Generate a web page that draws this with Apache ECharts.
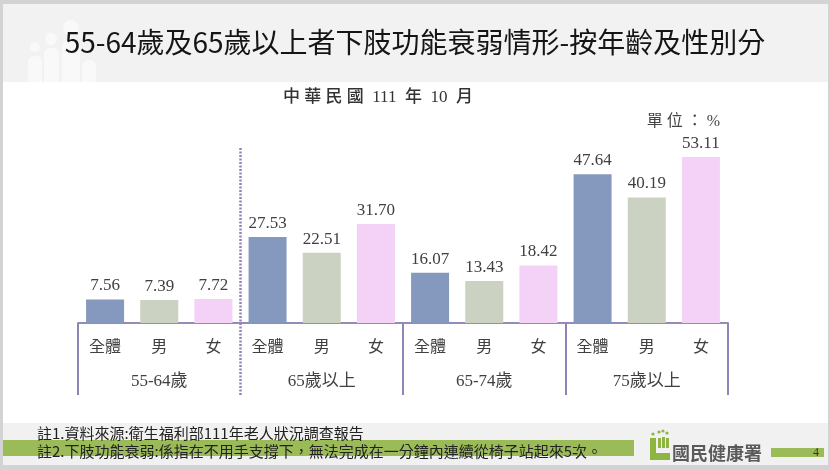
<!DOCTYPE html>
<html>
<head>
<meta charset="utf-8">
<script src="https://cdn.jsdelivr.net/npm/echarts@6/dist/echarts.min.js"></script>
<style>
  html, body { margin: 0; padding: 0; background: #fff; }
  #chart { width: 830px; height: 470px; }
</style>
</head>
<body>
<div id="chart"></div>
<script>
// age groups and sex breakdown, unit: %
const groups = ['55-64歲', '65歲以上', '65-74歲', '75歲以上']
const sexes = ['全體', '男', '女']
const totalVals = [7.56, 27.53, 16.07, 47.64]
const maleVals = [7.39, 22.51, 13.43, 40.19]
const femaleVals = [7.72, 31.70, 18.42, 53.11]

const sexColors = ['#8499bd', '#cbd2c1', '#f4d1f7']
const lineColor = '#8f84b5'
const serif = "'Liberation Serif', 'Noto Sans CJK TC', serif"
const sans = "'Noto Sans CJK TC', sans-serif"

// flatten into 12 bars: group x sex
const cats = []
const vals = []
groups.forEach((g, i) => {
  const row = [totalVals[i], maleVals[i], femaleVals[i]]
  sexes.forEach((s, j) => {
    cats.push(s)
    vals.push({ value: row[j], itemStyle: { color: sexColors[j] } })
  })
})

const chart = echarts.init(document.getElementById('chart'), null, { renderer: 'canvas' })

// slide decoration
const deco = [
  { type: 'rect', z: -20, shape: { x: 0, y: 0, width: 830, height: 470 }, style: { fill: '#d3d3d3' } },
  { type: 'rect', z: -19, shape: { x: 3, y: 4, width: 825, height: 461 }, style: { fill: '#ffffff' } },
  { type: 'rect', z: -18, shape: { x: 3, y: 4, width: 825, height: 78 }, style: { fill: '#f2f2f2' } },
  { type: 'rect', z: -18, shape: { x: 3, y: 423, width: 825, height: 42 }, style: { fill: '#f1f1f1' } },
  // people icon in header
  { type: 'circle', z: -17, shape: { cx: 35, cy: 47, r: 5 }, style: { fill: '#f9f9f9' } },
  { type: 'circle', z: -17, shape: { cx: 51, cy: 39, r: 6 }, style: { fill: '#f9f9f9' } },
  { type: 'circle', z: -17, shape: { cx: 71, cy: 28, r: 8 }, style: { fill: '#f9f9f9' } },
  { type: 'rect', z: -17, shape: { x: 28, y: 56, width: 14, height: 26, r: [6, 6, 0, 0] }, style: { fill: '#f9f9f9' } },
  { type: 'rect', z: -17, shape: { x: 44, y: 48, width: 15, height: 34, r: [6, 6, 0, 0] }, style: { fill: '#f9f9f9' } },
  { type: 'rect', z: -17, shape: { x: 62, y: 40, width: 18, height: 42, r: [7, 7, 0, 0] }, style: { fill: '#f9f9f9' } },
  { type: 'rect', z: -17, shape: { x: 82, y: 60, width: 14, height: 22, r: [6, 6, 0, 0] }, style: { fill: '#f9f9f9' } },
  // footer bars
  { type: 'rect', z: -16, shape: { x: 3, y: 440, width: 631, height: 16 }, style: { fill: '#9bbb59' } },
  { type: 'rect', z: -16, shape: { x: 771, y: 448, width: 53, height: 9 }, style: { fill: '#9bbb59' } },
  // logo mark
  { type: 'rect', shape: { x: 650, y: 438, width: 6, height: 22 }, style: { fill: '#8db53f' } },
  { type: 'rect', shape: { x: 650, y: 453, width: 20, height: 7 }, style: { fill: '#8db53f' } },
  { type: 'rect', shape: { x: 658, y: 438, width: 3, height: 10 }, style: { fill: '#8db53f' } },
  { type: 'rect', shape: { x: 662, y: 437, width: 3, height: 11 }, style: { fill: '#8db53f' } },
  { type: 'rect', shape: { x: 666, y: 438, width: 3, height: 10 }, style: { fill: '#8db53f' } },
  { type: 'circle', shape: { cx: 653, cy: 434, r: 1.6 }, style: { fill: '#8db53f' } },
  { type: 'circle', shape: { cx: 659, cy: 432, r: 1.6 }, style: { fill: '#8db53f' } },
  { type: 'circle', shape: { cx: 663, cy: 431, r: 1.6 }, style: { fill: '#8db53f' } },
  { type: 'circle', shape: { cx: 667, cy: 433, r: 1.6 }, style: { fill: '#8db53f' } },
  // texts
  { type: 'text', left: 'center', top: 28, style: {
      text: '55-64歲及65歲以上者下肢功能衰弱情形-按年齡及性別分',
      font: '28px ' + sans, fill: '#151515' } },
  { type: 'text', x: 283, y: 98, style: {
      text: '中 華 民 國  111  年  10  月', font: '500 17px ' + serif,
      fill: '#333', verticalAlign: 'middle' } },
  { type: 'text', x: 720, y: 122, style: {
      text: '單 位 ： %', font: '16px ' + serif, fill: '#444',
      align: 'right', verticalAlign: 'middle' } },
  { type: 'text', x: 37, y: 433, style: {
      text: '註1.資料來源:衛生福利部111年老人狀況調查報告', font: '15px ' + sans,
      fill: '#222', verticalAlign: 'middle' } },
  { type: 'text', x: 37, y: 451, style: {
      text: '註2.下肢功能衰弱:係指在不用手支撐下，無法完成在一分鐘內連續從椅子站起來5次。',
      font: '15px ' + sans, fill: '#222', verticalAlign: 'middle' } },
  { type: 'text', x: 672, y: 453, style: {
      text: '國民健康署', font: 'bold 18px ' + sans, fill: '#5a5a5a', verticalAlign: 'middle' } },
  { type: 'text', x: 819, y: 453, style: {
      text: '4', font: '12px ' + serif, fill: '#333', align: 'right', verticalAlign: 'middle' } },
]

chart.setOption({
  animation: false,
  backgroundColor: 'transparent',
  grid: { left: 78, right: 102, top: 148, bottom: 147 },
  xAxis: [
    {
      type: 'category',
      data: cats,
      axisLine: { lineStyle: { color: lineColor, width: 1.5 } },
      axisTick: { show: false },
      axisLabel: { margin: 17, fontSize: 16, fontFamily: serif, color: '#404040' },
    },
    {
      type: 'category',
      data: groups,
      position: 'bottom',
      axisLine: { lineStyle: { color: lineColor, width: 1.5 } },
      axisTick: {
        show: true, length: 72,
        // the boundary after the first group is drawn as a dotted line instead
        interval: (idx) => idx !== 1,
        lineStyle: { color: lineColor, width: 2 },
      },
      axisLabel: { margin: 50, fontSize: 17, fontFamily: serif, color: '#404040' },
    },
  ],
  yAxis: { type: 'value', min: 0, max: 56, show: false },
  series: [{
    type: 'bar',
    xAxisIndex: 0,
    data: vals,
    barWidth: 38,
    label: {
      show: true, position: 'top', distance: 5,
      fontSize: 17, fontFamily: serif, color: '#404040',
      formatter: (p) => p.value.toFixed(2),
    },
  }],
  graphic: deco,
})

// dotted divider between 55-64 and 65+ groups, placed through the axis scale
const xa = chart.convertToPixel({ xAxisIndex: 1 }, groups[0])
const xb = chart.convertToPixel({ xAxisIndex: 1 }, groups[1])
const yTop = chart.convertToPixel({ yAxisIndex: 0 }, 56)
const yBase = chart.convertToPixel({ yAxisIndex: 0 }, 0)
chart.setOption({
  graphic: deco.concat([{
    type: 'line', z: 5,
    shape: { x1: (xa + xb) / 2, y1: yTop, x2: (xa + xb) / 2, y2: yBase + 72 },
    style: { stroke: lineColor, lineWidth: 2.5, lineDash: [2, 1.5] },
  }]),
})
</script>
</body>
</html>
